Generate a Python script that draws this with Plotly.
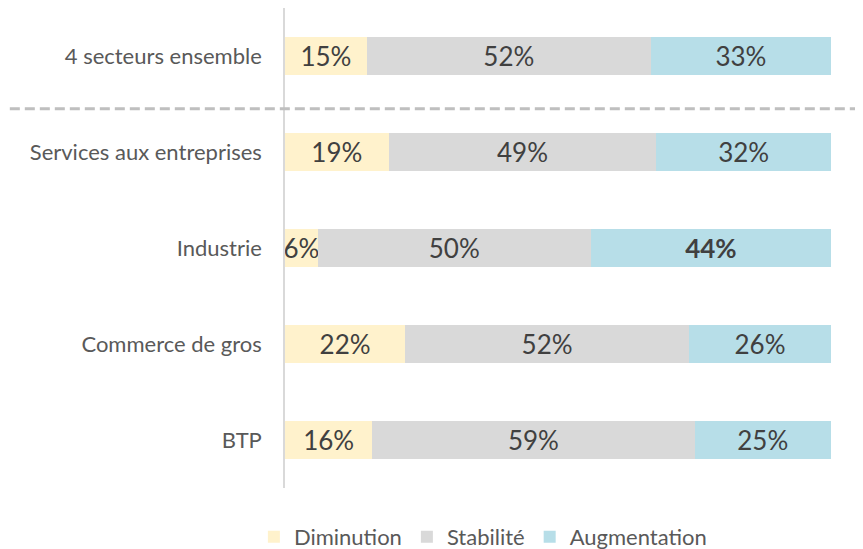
import plotly.graph_objects as go

categories = ["4 secteurs ensemble", "Services aux entreprises", "Industrie", "Commerce de gros", "BTP"]
diminution = [15, 19, 6, 22, 16]
stabilite = [52, 49, 50, 52, 59]
augmentation = [33, 32, 44, 26, 25]
series_names = ["Diminution", "Stabilité", "Augmentation"]
colors = ["#FFF2CC", "#D9D9D9", "#B7DEE8"]
bold_points = {("Augmentation", "Industrie")}

FONT = "Lato, 'Open Sans', sans-serif"
fig = go.Figure()
for name, vals, col in zip(series_names, [diminution, stabilite, augmentation], colors):
    texts = []
    for c, v in zip(categories, vals):
        t = f"{v}%"
        if (name, c) in bold_points:
            t = f"<b>{t}</b>"
        texts.append(t)
    fig.add_trace(go.Bar(
        y=categories, x=vals, name=name, orientation="h",
        marker=dict(color=col, line=dict(width=0)),
        text=texts, textposition="inside", insidetextanchor="middle",
        textangle=0, constraintext="none", cliponaxis=False,
        textfont=dict(family=FONT, size=26, color="#404040"),
        hoverinfo="skip", width=0.4,
    ))

fig.add_shape(type="line", xref="paper", yref="y", x0=-0.504, x1=1.06, y0=0.55, y1=0.55,
              line=dict(color="#BFBFBF", width=3, dash="10px,5px"))

fig.update_layout(
    barmode="stack",
    width=855, height=541,
    margin=dict(l=277, r=32, t=0, b=61, autoexpand=False),
    plot_bgcolor="white", paper_bgcolor="white",
    font=dict(family=FONT, color="#595959"),
    showlegend=True,
    legend=dict(orientation="h", x=-0.057, xanchor="left", y=-0.058, yanchor="top",
                font=dict(family=FONT, size=22, color="#595959"),
                itemwidth=30, traceorder="normal"),
)
fig.update_xaxes(range=[0, 100], showgrid=False, zeroline=False, showticklabels=False, fixedrange=True)
fig.update_yaxes(categoryorder="array", categoryarray=categories, autorange="reversed",
                 showline=True, linecolor="#D9D9D9", linewidth=1.5, ticks="",
                 tickfont=dict(family=FONT, size=22, color="#595959"),
                 ticklabelstandoff=17, showgrid=False, automargin=False)

fig.write_html("out.html")
